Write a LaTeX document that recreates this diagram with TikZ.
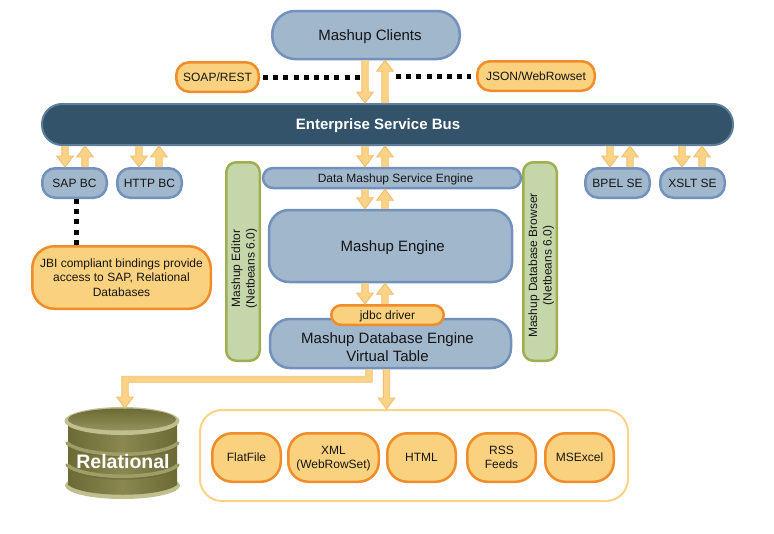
\documentclass[tikz,border=0pt]{standalone}
\usepackage{fontspec}
\setmainfont{Liberation Sans}
\usetikzlibrary{calc}

\definecolor{bluefill}{HTML}{A1B7CC}
\definecolor{blueedge}{HTML}{7391BD}
\definecolor{orangefill}{HTML}{FAD27F}
\definecolor{orangeedge}{HTML}{F08C2A}
\definecolor{arrowfill}{HTML}{FBD387}
\definecolor{arrowedge}{HTML}{F2BE6E}
\definecolor{greenfill}{HTML}{C6D6AB}
\definecolor{greenedge}{HTML}{9DAF50}
\definecolor{busfill}{HTML}{33536B}
\definecolor{busedge}{HTML}{5E7F9B}
\definecolor{drumdark}{HTML}{6C6A35}
\definecolor{drummid}{HTML}{8A8850}
\definecolor{drumrim}{HTML}{BFBF8F}
\definecolor{textcol}{HTML}{151515}

% from node #2 to node #3 at x=#1, #4 is + for a head pointing down, - for up
\newcommand{\blockarrow}[4]{
  \draw [blockline] let \p1=(#1,0 |- #2),\p2=(#1,0 |- #3) in
    (\x1-3.2pt,\y1) -- (\x1-3.2pt,\y2#4 11pt) -- (\x1-8.3pt,\y2#4 11pt) -- (\x1,\y2)
    -- (\x1+8.3pt,\y2#4 11pt) -- (\x1+3.2pt,\y2#4 11pt) -- (\x1+3.2pt,\y1);
}

\begin{document}
\begin{tikzpicture}[
  x=1pt,y=-1pt,
  blockline/.style={draw=arrowedge,fill=arrowfill,line width=0.9pt,line join=miter},
  dotline/.style={line width=5pt,black,dash pattern=on 5pt off 5.2pt},
  box/.style={align=center,inner sep=0pt,text=textcol,line width=2.5pt,text depth=0pt,
    font=\fontsize{12}{14.5}\selectfont},
  bluebox/.style={box,draw=blueedge,fill=bluefill},
  orangebox/.style={box,draw=orangeedge,fill=orangefill},
  greenbox/.style={box,draw=greenedge,fill=greenfill,rounded corners=10pt,rotate=90,
    minimum width=198.5pt,minimum height=33.5pt},
  bigtext/.style={font=\fontsize{15}{18}\selectfont},
  filebox/.style={orangebox,rounded corners=20pt,minimum height=48.5pt},
]
\useasboundingbox (0,0) rectangle (774,533);

\node (clients) [bluebox,bigtext,rounded corners=23pt,minimum width=187.5pt,minimum height=48pt]
  at (366,35) {\kern8pt Mashup Clients};
\node (soap) [orangebox,rounded corners=13pt,minimum width=82.5pt,minimum height=29.5pt]
  at (217.5,77) {SOAP/REST};
\node (json) [orangebox,rounded corners=13pt,minimum width=117.5pt,minimum height=29.5pt]
  at (536,76) {JSON/WebRowset};
\node (bus) [box,draw=busedge,fill=busfill,text=white,line width=2pt,rounded corners=20pt,
  minimum width=691pt,minimum height=41pt,font=\fontsize{15}{18}\selectfont\bfseries]
  at (387.5,124.5) {\kern-19pt Enterprise Service Bus};

\foreach \name/\xc/\txt in {sapbc/74.5/SAP BC,httpbc/149.5/HTTP BC,bpel/617.5/BPEL SE,xslt/692.5/XSLT SE} {
  \node (\name) [bluebox,rounded corners=13pt,minimum width=64.5pt,minimum height=29.5pt]
    at (\xc,183) {\txt};
}
\node (jbi) [orangebox,rounded corners=22pt,minimum width=178.5pt,minimum height=62.5pt]
  at (121.5,277.5) {JBI compliant bindings provide\\access to SAP, Relational\\Databases};

\node (editor) [greenbox] at (243,261.5) {\kern-14pt Mashup Editor\\\kern-14pt (Netbeans 6.0)};
\node (browser) [greenbox] at (540,261.5) {\kern-8pt Mashup Database Browser\\\kern-8pt (Netbeans 6.0)};
\node (dmse) [bluebox,rounded corners=10pt,minimum width=258pt,minimum height=20pt]
  at (392,178) {\kern7pt Data Mashup Service Engine};
\node (engine) [bluebox,bigtext,rounded corners=20pt,minimum width=243pt,minimum height=72pt]
  at (390.5,246) {\kern4.5pt Mashup Engine};
\node (dbengine) [bluebox,bigtext,rounded corners=20pt,minimum width=241pt,minimum height=49pt]
  at (390.5,343.5) {\strut\\[-13pt]\kern-6pt Mashup Database Engine\\\kern-6pt Virtual Table};
\node (jdbc) [orangebox,rounded corners=9.75pt,minimum width=112.5pt,minimum height=19.5pt]
  at (387.5,315) {jdbc driver};

\node (sources) [box,draw=arrowfill,line width=2pt,rounded corners=22pt,
  minimum width=428pt,minimum height=91pt] at (414,455.5) {};
\node (flatfile) [filebox,minimum width=68.5pt] at (246.5,457.5) {FlatFile};
\node (xml) [filebox,minimum width=90.5pt] at (333.5,457.5) {XML\\(WebRowSet)};
\node (html) [filebox,minimum width=68.5pt] at (421.5,457.5) {HTML};
\node (rss) [filebox,minimum width=68.5pt] at (501.5,457.5) {RSS\\Feeds};
\node (msexcel) [filebox,minimum width=68.5pt] at (579.5,457.5) {MSExcel};

% Relational drum
\fill [drumrim] (122.5,485.5) ellipse [x radius=57.5,y radius=13.5];
\shade [left color=drumdark,right color=drumdark,middle color=drummid]
  (68,421) -- (68,485) .. controls (85,498) and (160,498) .. (177,485) -- (177,421) -- cycle;
\foreach \yr in {443,465} {
  \draw [drumdark,opacity=0.6,line width=2pt] (68,\yr+2.5) .. controls (85,\yr+17.5) and (160,\yr+17.5) .. (177,\yr+2.5);
  \draw [drummid!60!drumrim,line width=3.5pt,line cap=round] (67,\yr) .. controls (85,\yr+15) and (160,\yr+15) .. (178,\yr);
}
\fill [drumrim] (122,421) ellipse [x radius=57.5,y radius=14];
\shade [top color=drumdark,bottom color=drummid!80!drumrim] (122,419.5) ellipse [x radius=54,y radius=11];
\node (relational) [text=white,font=\fontsize{19.5}{22}\selectfont\bfseries,inner sep=0pt]
  at (123,462) {Relational};
\coordinate (reltop) at (125,408);

% dotted links
\coordinate (soapend) at (360,77);
\coordinate (jsonend) at (396,76);
\draw [dotline,shorten <=3pt] (soap.east) -- (soapend);
\draw [dotline,shorten >=5pt] (jsonend) -- (json.west);
\draw [dotline] (76,0 |- sapbc.south) -- (76,0 |- jbi.north);

% block arrows, down then up
\foreach \xa/\xb/\na/\nb in {365/385/clients/bus,65/85/bus/sapbc,139/159/bus/httpbc,
    365/385/bus/dmse,365/385/dmse/engine,365/385/engine/jdbc,610/630/bus/bpel,682/702/bus/xslt} {
  \blockarrow{\xa}{\na.south}{\nb.north}{+}
  \blockarrow{\xb}{\nb.north}{\na.south}{-}
}
\blockarrow{386.5}{dbengine.south}{sources.north}{+}
\draw [blockline] let \p1=(369,0 |- dbengine.south),\p2=(reltop) in
  (\x1+3.2pt,\y1) -- (\x1+3.2pt,\y1-13pt) -- (\x2+3.2pt,\y1-13pt) -- (\x2+3.2pt,\y2+11pt)
  -- (\x2+8.3pt,\y2+11pt) -- (\x2,\y2) -- (\x2-8.3pt,\y2+11pt) -- (\x2-3.2pt,\y2+11pt)
  -- (\x2-3.2pt,\y1-7pt) -- (\x1-3.2pt,\y1-7pt) -- (\x1-3.2pt,\y1);

\end{tikzpicture}
\end{document}
